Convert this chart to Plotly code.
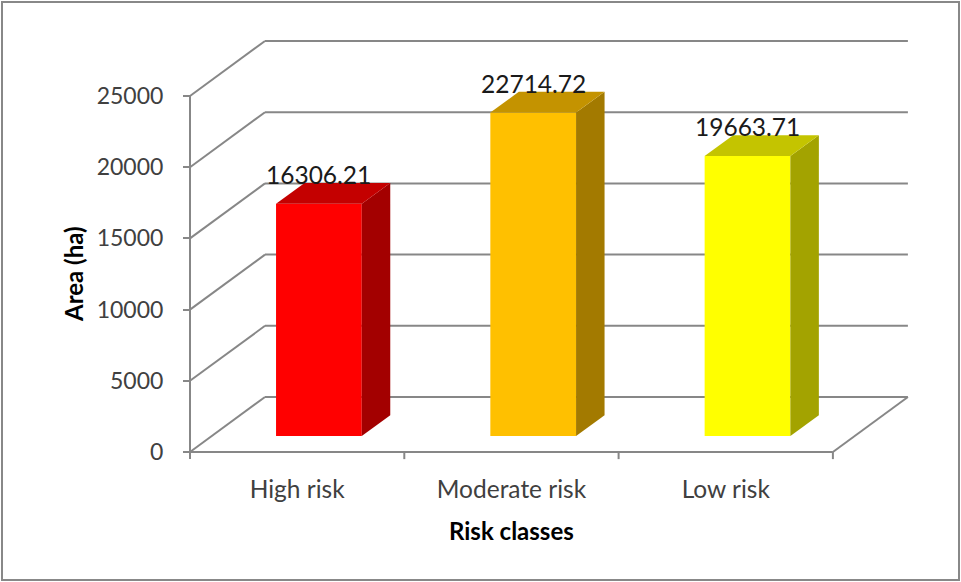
import plotly.graph_objects as go

# ---- data ----
categories = ["High risk", "Moderate risk", "Low risk"]
areas = [16306.21, 22714.72, 19663.71]
bar_colors = ["#FF0000", "#FFC000", "#FFFF00"]
y_ticks = [0, 5000, 10000, 15000, 20000, 25000]
y_tick_text = [str(t) for t in y_ticks]
y_title = "Area (ha)"
x_title = "Risk classes"

# ---- figure geometry (pixels) ----
W, H = 961, 582
ML, MR, MT, MB = 170, 40, 28, 110
SX = 214.3          # px per category
SY = 0.01424        # px per value unit
X0, Y0 = 190, 452   # pixel of front-left floor corner (x=-0.5, y=0)

# 3-D oblique depth, expressed in axis units
DX = 75 / SX
DY = 55 / SY
D_FRONT, D_BACK = 0.29, 0.67   # bar depth span (fraction of floor depth)
HALF_W = 0.2                   # half bar width in category units

PW, PH = W - ML - MR, H - MT - MB
x_range = [-0.5 - (X0 - ML) / SX, -0.5 + (W - MR - X0) / SX]
y_range = [-(H - MB - Y0) / SY, (Y0 - MT) / SY]


def px_x(px):
    return (px - ML) / PW


def px_y(py):
    return (H - MB - py) / PH


def proj(x, v, d):
    return x + d * DX, v + d * DY


def shade(hex_color, f):
    r, g, b = (int(hex_color[i:i + 2], 16) for i in (1, 3, 5))
    return "#%02X%02X%02X" % (int(r * f), int(g * f), int(b * f))


GRID = "#878787"
shapes = []


def seg(p, q, width=2):
    shapes.append(dict(type="line", xref="x", yref="y", x0=p[0], y0=p[1], x1=q[0], y1=q[1],
                       line=dict(color=GRID, width=width), layer="below"))


x_left, x_right = -0.5, len(categories) - 0.5

# back wall gridlines with the side-wall diagonals
for v in y_ticks:
    seg(proj(x_left, v, 0), proj(x_left, v, 1))
    seg(proj(x_left, v, 1), proj(x_right, v, 1))

# floor: front edge and right diagonal
seg(proj(x_left, 0, 0), proj(x_right, 0, 0))
seg(proj(x_right, 0, 0), proj(x_right, 0, 1))

# front value axis line
seg((x_left, -420), (x_left, y_ticks[-1]))

# category boundary ticks
for i in range(len(categories) + 1):
    seg((x_left + i, 0), (x_left + i, -500))

# outer chart border
shapes.append(dict(type="rect", xref="paper", yref="paper",
                   x0=px_x(2), x1=px_x(959), y0=px_y(580), y1=px_y(2),
                   line=dict(color="#888888", width=2), layer="below"))

fig = go.Figure()

annotations = []
for i, (cat, v, col) in enumerate(zip(categories, areas, bar_colors)):
    xl, xr = i - HALF_W, i + HALF_W
    # front face
    front = [proj(xl, 0, D_FRONT), proj(xr, 0, D_FRONT), proj(xr, v, D_FRONT), proj(xl, v, D_FRONT)]
    # side face
    side = [proj(xr, 0, D_FRONT), proj(xr, 0, D_BACK), proj(xr, v, D_BACK), proj(xr, v, D_FRONT)]
    # top face
    top = [proj(xl, v, D_FRONT), proj(xr, v, D_FRONT), proj(xr, v, D_BACK), proj(xl, v, D_BACK)]
    for poly, c in ((front, col), (side, shade(col, 0.64)), (top, shade(col, 0.77))):
        xs = [p[0] for p in poly] + [poly[0][0]]
        ys = [p[1] for p in poly] + [poly[0][1]]
        fig.add_trace(go.Scatter(x=xs, y=ys, mode="lines", fill="toself", fillcolor=c,
                                 line=dict(width=0, color=c), hoverinfo="skip", showlegend=False))
    lx, ly = proj(i, v, D_FRONT)[0], proj(i, v, D_BACK)[1]
    annotations.append(dict(x=lx, y=ly, xref="x", yref="y", text=f"{v:.2f}", showarrow=False,
                            yanchor="bottom", yshift=-8,
                            font=dict(family="Lato", size=24.5, color="#1a1a1a")))

annotations.append(dict(x=px_x(73), y=px_y(274), xref="paper", yref="paper", text=f"<b>{y_title}</b>",
                        textangle=-90, showarrow=False, xanchor="center", yanchor="middle",
                        font=dict(family="Lato", size=24, color="#000000")))
annotations.append(dict(x=px_x(511), y=px_y(530), xref="paper", yref="paper", text=f"<b>{x_title}</b>",
                        showarrow=False, xanchor="center", yanchor="middle",
                        font=dict(family="Lato", size=24, color="#000000")))

fig.update_layout(
    width=W, height=H,
    margin=dict(l=ML, r=MR, t=MT, b=MB),
    paper_bgcolor="white", plot_bgcolor="white",
    shapes=shapes, annotations=annotations, showlegend=False,
    xaxis=dict(range=x_range, showgrid=False, zeroline=False, showline=False, ticks="",
               tickmode="array", tickvals=list(range(len(categories))), ticktext=categories,
               tickfont=dict(family="Lato", size=24.5, color="#404040"), ticklabelstandoff=0,
               fixedrange=True),
    yaxis=dict(range=y_range, showgrid=False, zeroline=False, showline=False,
               tickmode="array", tickvals=y_ticks, ticktext=y_tick_text,
               ticks="outside", ticklen=7, tickwidth=2,
               tickcolor=GRID, anchor="free", position=(X0 - ML) / PW,
               tickfont=dict(family="Lato", size=23, color="#404040"), ticklabelstandoff=15,
               fixedrange=True),
)

fig.write_html("out.html")
